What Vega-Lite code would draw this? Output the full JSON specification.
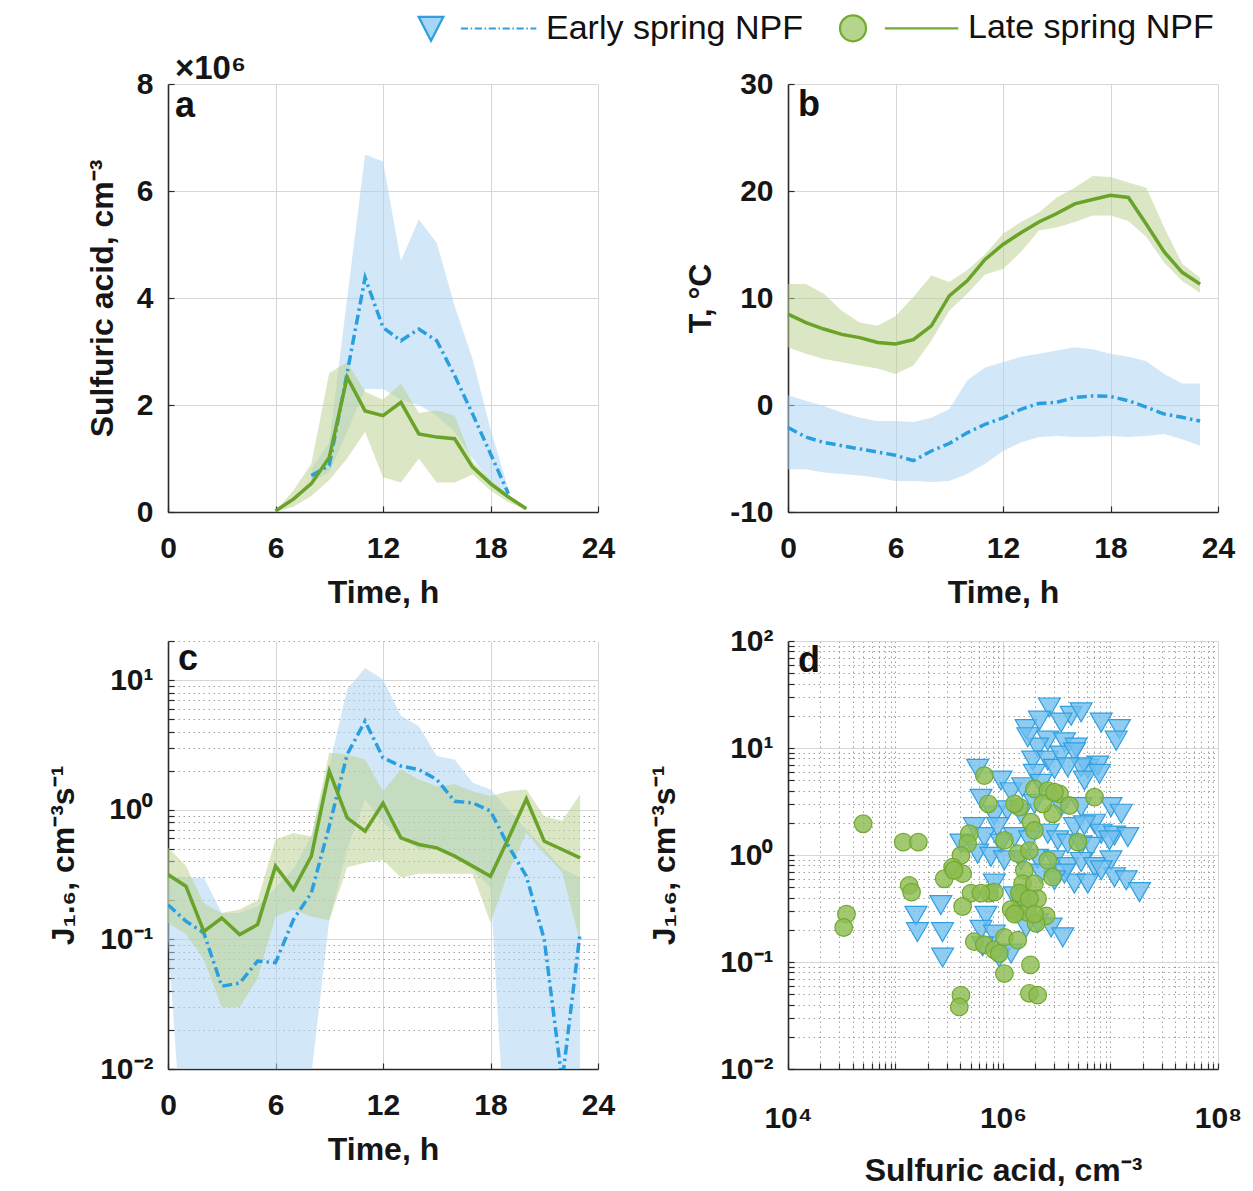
{
"$schema": "https://vega.github.io/schema/vega-lite/v6.json",
"background": "white",
"padding": {"left": 47, "top": 11, "right": 5, "bottom": 5},
"columns": 2,
"spacing": {"row": 129, "column": 190},
"bounds": "flush",
"datasets": {
"pa": [
{"t":8,"s":"E","m":680000,"lo":550000,"hi":800000},
{"t":9,"s":"E","m":870000,"lo":750000,"hi":1300000},
{"t":10,"s":"E","m":2600000,"lo":1500000,"hi":4000000},
{"t":11,"s":"E","m":4380000,"lo":2300000,"hi":6680000},
{"t":12,"s":"E","m":3450000,"lo":2300000,"hi":6550000},
{"t":13,"s":"E","m":3200000,"lo":2100000,"hi":4690000},
{"t":14,"s":"E","m":3420000,"lo":2000000,"hi":5470000},
{"t":15,"s":"E","m":3200000,"lo":1800000,"hi":5030000},
{"t":16,"s":"E","m":2550000,"lo":1500000,"hi":3850000},
{"t":17,"s":"E","m":1830000,"lo":1000000,"hi":2860000},
{"t":18,"s":"E","m":1090000,"lo":550000,"hi":1550000},
{"t":19,"s":"E","m":340000,"lo":250000,"hi":430000},
{"t":6,"s":"L","m":20000,"lo":0,"hi":20000},
{"t":7,"s":"L","m":240000,"lo":100000,"hi":400000},
{"t":8,"s":"L","m":530000,"lo":300000,"hi":900000},
{"t":9,"s":"L","m":1020000,"lo":600000,"hi":2600000},
{"t":10,"s":"L","m":2520000,"lo":1000000,"hi":2800000},
{"t":11,"s":"L","m":1890000,"lo":1500000,"hi":2250000},
{"t":12,"s":"L","m":1800000,"lo":650000,"hi":2100000},
{"t":13,"s":"L","m":2050000,"lo":550000,"hi":2400000},
{"t":14,"s":"L","m":1460000,"lo":1000000,"hi":1850000},
{"t":15,"s":"L","m":1400000,"lo":550000,"hi":1900000},
{"t":16,"s":"L","m":1370000,"lo":550000,"hi":1800000},
{"t":17,"s":"L","m":840000,"lo":700000,"hi":950000},
{"t":18,"s":"L","m":530000,"lo":400000,"hi":600000},
{"t":19,"s":"L","m":280000,"lo":180000,"hi":320000},
{"t":20,"s":"L","m":60000,"lo":40000,"hi":80000}
],
"pb": [
{"t":0,"s":"E","m":-2.1,"lo":-6.0,"hi":0.9},
{"t":1,"s":"E","m":-3.0,"lo":-6.0,"hi":0.4},
{"t":2,"s":"E","m":-3.5,"lo":-6.3,"hi":-0.1},
{"t":3,"s":"E","m":-3.8,"lo":-6.45,"hi":-0.7},
{"t":4,"s":"E","m":-4.1,"lo":-6.6,"hi":-1.2},
{"t":5,"s":"E","m":-4.4,"lo":-6.8,"hi":-1.5},
{"t":6,"s":"E","m":-4.7,"lo":-7.1,"hi":-1.5},
{"t":7,"s":"E","m":-5.2,"lo":-7.1,"hi":-1.6},
{"t":8,"s":"E","m":-4.3,"lo":-7.2,"hi":-1.2},
{"t":9,"s":"E","m":-3.6,"lo":-7.1,"hi":-0.4},
{"t":10,"s":"E","m":-2.6,"lo":-6.45,"hi":2.3},
{"t":11,"s":"E","m":-1.8,"lo":-5.5,"hi":3.5},
{"t":12,"s":"E","m":-1.2,"lo":-4.3,"hi":4.0},
{"t":13,"s":"E","m":-0.4,"lo":-3.5,"hi":4.5},
{"t":14,"s":"E","m":0.15,"lo":-3.0,"hi":4.8},
{"t":15,"s":"E","m":0.25,"lo":-2.9,"hi":5.1},
{"t":16,"s":"E","m":0.7,"lo":-3.0,"hi":5.4},
{"t":17,"s":"E","m":0.85,"lo":-3.0,"hi":5.2},
{"t":18,"s":"E","m":0.8,"lo":-2.9,"hi":4.8},
{"t":19,"s":"E","m":0.4,"lo":-3.0,"hi":4.5},
{"t":20,"s":"E","m":-0.2,"lo":-2.9,"hi":4.1},
{"t":21,"s":"E","m":-0.85,"lo":-2.7,"hi":2.9},
{"t":22,"s":"E","m":-1.15,"lo":-3.2,"hi":2.0},
{"t":23,"s":"E","m":-1.5,"lo":-3.8,"hi":2.0},
{"t":0,"s":"L","m":8.5,"lo":5.4,"hi":11.3},
{"t":1,"s":"L","m":7.7,"lo":4.8,"hi":11.3},
{"t":2,"s":"L","m":7.1,"lo":4.3,"hi":10.4},
{"t":3,"s":"L","m":6.6,"lo":4.0,"hi":8.8},
{"t":4,"s":"L","m":6.3,"lo":3.7,"hi":7.7},
{"t":5,"s":"L","m":5.85,"lo":3.4,"hi":7.4},
{"t":6,"s":"L","m":5.7,"lo":2.9,"hi":8.3},
{"t":7,"s":"L","m":6.1,"lo":3.7,"hi":10.1},
{"t":8,"s":"L","m":7.4,"lo":6.0,"hi":12.1},
{"t":9,"s":"L","m":10.2,"lo":8.8,"hi":11.5},
{"t":10,"s":"L","m":11.6,"lo":10.4,"hi":12.6},
{"t":11,"s":"L","m":13.6,"lo":12.2,"hi":14.1},
{"t":12,"s":"L","m":15.0,"lo":12.7,"hi":16.0},
{"t":13,"s":"L","m":16.1,"lo":14.3,"hi":17.1},
{"t":14,"s":"L","m":17.1,"lo":16.3,"hi":18.0},
{"t":15,"s":"L","m":17.9,"lo":16.6,"hi":19.4},
{"t":16,"s":"L","m":18.8,"lo":17.1,"hi":20.3},
{"t":17,"s":"L","m":19.2,"lo":17.7,"hi":21.4},
{"t":18,"s":"L","m":19.6,"lo":17.7,"hi":21.3},
{"t":19,"s":"L","m":19.4,"lo":17.2,"hi":20.8},
{"t":20,"s":"L","m":16.9,"lo":15.7,"hi":20.3},
{"t":21,"s":"L","m":14.3,"lo":13.3,"hi":16.6},
{"t":22,"s":"L","m":12.4,"lo":11.6,"hi":13.2},
{"t":23,"s":"L","m":11.3,"lo":10.5,"hi":11.9}
],
"pc": [
{"t":0,"s":"E","m":0.185,"lo":0.1,"hi":0.3},
{"t":1,"s":"E","m":0.138,"lo":0.001,"hi":0.3},
{"t":2,"s":"E","m":0.112,"lo":0.001,"hi":0.3},
{"t":3,"s":"E","m":0.0435,"lo":0.001,"hi":0.16},
{"t":4,"s":"E","m":0.046,"lo":0.001,"hi":0.16},
{"t":5,"s":"E","m":0.068,"lo":0.001,"hi":0.18},
{"t":6,"s":"E","m":0.066,"lo":0.001,"hi":0.25},
{"t":7,"s":"E","m":0.142,"lo":0.001,"hi":0.35},
{"t":8,"s":"E","m":0.228,"lo":0.009,"hi":0.62},
{"t":9,"s":"E","m":0.746,"lo":0.14,"hi":2.17},
{"t":10,"s":"E","m":2.67,"lo":0.5,"hi":8.5},
{"t":11,"s":"E","m":4.82,"lo":1.2,"hi":12.4},
{"t":12,"s":"E","m":2.51,"lo":0.8,"hi":10.1},
{"t":13,"s":"E","m":2.17,"lo":0.6,"hi":5.3},
{"t":14,"s":"E","m":2.04,"lo":0.5,"hi":4.4},
{"t":15,"s":"E","m":1.71,"lo":0.5,"hi":2.6},
{"t":16,"s":"E","m":1.16,"lo":0.45,"hi":2.44},
{"t":17,"s":"E","m":1.13,"lo":0.35,"hi":1.61},
{"t":18,"s":"E","m":0.975,"lo":0.25,"hi":1.43},
{"t":19,"s":"E","m":0.524,"lo":0.001,"hi":1.0},
{"t":20,"s":"E","m":0.307,"lo":0.001,"hi":0.7},
{"t":21,"s":"E","m":0.1,"lo":0.001,"hi":0.5},
{"t":22,"s":"E","m":0.008,"lo":0.001,"hi":0.35},
{"t":23,"s":"E","m":0.112,"lo":0.001,"hi":0.3},
{"t":0,"s":"L","m":0.316,"lo":0.134,"hi":0.51},
{"t":1,"s":"L","m":0.257,"lo":0.11,"hi":0.37},
{"t":2,"s":"L","m":0.115,"lo":0.07,"hi":0.19},
{"t":3,"s":"L","m":0.146,"lo":0.03,"hi":0.16},
{"t":4,"s":"L","m":0.109,"lo":0.03,"hi":0.17},
{"t":5,"s":"L","m":0.13,"lo":0.05,"hi":0.2},
{"t":6,"s":"L","m":0.367,"lo":0.15,"hi":0.59},
{"t":7,"s":"L","m":0.242,"lo":0.17,"hi":0.66},
{"t":8,"s":"L","m":0.438,"lo":0.15,"hi":0.62},
{"t":9,"s":"L","m":1.98,"lo":0.14,"hi":2.75},
{"t":10,"s":"L","m":0.865,"lo":0.36,"hi":2.67},
{"t":11,"s":"L","m":0.683,"lo":0.39,"hi":2.44},
{"t":12,"s":"L","m":1.12,"lo":0.41,"hi":1.39},
{"t":13,"s":"L","m":0.607,"lo":0.3,"hi":2.04},
{"t":14,"s":"L","m":0.539,"lo":0.32,"hi":1.71},
{"t":15,"s":"L","m":0.508,"lo":0.32,"hi":1.51},
{"t":16,"s":"L","m":0.438,"lo":0.32,"hi":1.57},
{"t":17,"s":"L","m":0.367,"lo":0.32,"hi":1.39},
{"t":18,"s":"L","m":0.307,"lo":0.134,"hi":1.27},
{"t":19,"s":"L","m":0.6,"lo":0.33,"hi":1.39},
{"t":20,"s":"L","m":1.21,"lo":0.66,"hi":1.43},
{"t":21,"s":"L","m":0.571,"lo":0.46,"hi":0.89},
{"t":22,"s":"L","m":0.493,"lo":0.33,"hi":0.82},
{"t":23,"s":"L","m":0.425,"lo":0.095,"hi":1.31}
],
"pd": [
{"x":2700000,"y":23.9,"s":"E"},{"x":4300000,"y":20,"s":"E"},{"x":5330000,"y":21.5,"s":"E"},{"x":8190000,"y":17.3,"s":"E"},
{"x":12100000,"y":15,"s":"E"},{"x":11300000,"y":11.7,"s":"E"},{"x":1640000,"y":15,"s":"E"},{"x":2180000,"y":18,"s":"E"},
{"x":3470000,"y":17.3,"s":"E"},{"x":2610000,"y":11.7,"s":"E"},{"x":3730000,"y":11.3,"s":"E"},{"x":4790000,"y":10.1,"s":"E"},
{"x":2100000,"y":10.1,"s":"E"},{"x":1700000,"y":12.6,"s":"E"},{"x":1890000,"y":7.62,"s":"E"},{"x":2610000,"y":7.62,"s":"E"},
{"x":3470000,"y":8.49,"s":"E"},{"x":4620000,"y":9.12,"s":"E"},{"x":6150000,"y":6.37,"s":"E"},{"x":7620000,"y":6.85,"s":"E"},
{"x":5330000,"y":6.6,"s":"E"},{"x":1960000,"y":5.72,"s":"E"},{"x":3010000,"y":6.37,"s":"E"},{"x":4000000,"y":6.6,"s":"E"},
{"x":5720000,"y":4.96,"s":"E"},{"x":7900000,"y":5.72,"s":"E"},{"x":581000,"y":6.37,"s":"E"},{"x":958000,"y":4.96,"s":"E"},
{"x":1190000,"y":3.86,"s":"E"},{"x":1520000,"y":4.3,"s":"E"},{"x":2260000,"y":4.62,"s":"E"},{"x":624000,"y":3.35,"s":"E"},
{"x":830000,"y":2.34,"s":"E"},{"x":1100000,"y":2.61,"s":"E"},{"x":1470000,"y":2.43,"s":"E"},{"x":1960000,"y":3.01,"s":"E"},
{"x":3470000,"y":2.8,"s":"E"},{"x":5330000,"y":2.8,"s":"E"},{"x":10100000,"y":2.8,"s":"E"},{"x":12600000,"y":2.43,"s":"E"},
{"x":7100000,"y":1.96,"s":"E"},{"x":4620000,"y":1.82,"s":"E"},{"x":5720000,"y":1.89,"s":"E"},{"x":8190000,"y":1.58,"s":"E"},
{"x":10900000,"y":1.52,"s":"E"},{"x":14500000,"y":1.47,"s":"E"},{"x":9790000,"y":1.37,"s":"E"},{"x":541000,"y":1.82,"s":"E"},
{"x":670000,"y":1.47,"s":"E"},{"x":891000,"y":1.82,"s":"E"},{"x":958000,"y":1.28,"s":"E"},{"x":1280000,"y":1.47,"s":"E"},
{"x":1760000,"y":1.37,"s":"E"},{"x":2610000,"y":1.58,"s":"E"},{"x":3230000,"y":1.37,"s":"E"},{"x":4000000,"y":1.28,"s":"E"},
{"x":5330000,"y":1.23,"s":"E"},{"x":6600000,"y":1.19,"s":"E"},{"x":406000,"y":1.28,"s":"E"},{"x":581000,"y":1.03,"s":"E"},
{"x":773000,"y":0.96,"s":"E"},{"x":1030000,"y":0.89,"s":"E"},{"x":1470000,"y":0.89,"s":"E"},{"x":2100000,"y":0.92,"s":"E"},
{"x":3010000,"y":0.89,"s":"E"},{"x":4000000,"y":0.77,"s":"E"},{"x":5330000,"y":0.86,"s":"E"},{"x":7100000,"y":0.77,"s":"E"},
{"x":10100000,"y":0.89,"s":"E"},{"x":4620000,"y":0.54,"s":"E"},{"x":6150000,"y":0.54,"s":"E"},{"x":10900000,"y":0.62,"s":"E"},
{"x":14000000,"y":0.58,"s":"E"},{"x":18600000,"y":0.45,"s":"E"},{"x":8190000,"y":0.72,"s":"E"},{"x":3730000,"y":0.67,"s":"E"},
{"x":3010000,"y":0.58,"s":"E"},{"x":2260000,"y":0.67,"s":"E"},{"x":830000,"y":0.54,"s":"E"},{"x":264000,"y":0.34,"s":"E"},
{"x":155000,"y":0.27,"s":"E"},{"x":160000,"y":0.19,"s":"E"},{"x":274000,"y":0.19,"s":"E"},{"x":274000,"y":0.11,"s":"E"},
{"x":695000,"y":0.27,"s":"E"},{"x":624000,"y":0.2,"s":"E"},{"x":830000,"y":0.18,"s":"E"},{"x":647000,"y":0.14,"s":"E"},
{"x":924000,"y":0.11,"s":"E"},{"x":1190000,"y":0.12,"s":"E"},{"x":1640000,"y":0.21,"s":"E"},{"x":2100000,"y":0.23,"s":"E"},
{"x":2800000,"y":0.21,"s":"E"},{"x":3600000,"y":0.17,"s":"E"},{"x":1700000,"y":0.31,"s":"E"},{"x":1280000,"y":0.41,"s":"E"},
{"x":50000,"y":1.96,"s":"L"},{"x":118000,"y":1.32,"s":"L"},{"x":163000,"y":1.32,"s":"L"},{"x":134000,"y":0.52,"s":"L"},
{"x":141000,"y":0.45,"s":"L"},{"x":35000,"y":0.28,"s":"L"},{"x":33000,"y":0.21,"s":"L"},{"x":670000,"y":5.52,"s":"L"},
{"x":730000,"y":3.01,"s":"L"},{"x":486000,"y":1.58,"s":"L"},{"x":469000,"y":1.28,"s":"L"},{"x":406000,"y":0.99,"s":"L"},
{"x":340000,"y":0.77,"s":"L"},{"x":421000,"y":0.67,"s":"L"},{"x":284000,"y":0.6,"s":"L"},{"x":504000,"y":0.44,"s":"L"},
{"x":421000,"y":0.33,"s":"L"},{"x":746000,"y":0.44,"s":"L"},{"x":830000,"y":0.45,"s":"L"},{"x":1030000,"y":1.37,"s":"L"},
{"x":1370000,"y":1.03,"s":"L"},{"x":1760000,"y":1.1,"s":"L"},{"x":1420000,"y":2.8,"s":"L"},{"x":1960000,"y":4.15,"s":"L"},
{"x":2610000,"y":4,"s":"L"},{"x":3350000,"y":3.72,"s":"L"},{"x":4150000,"y":2.9,"s":"L"},{"x":2900000,"y":2.43,"s":"L"},
{"x":1820000,"y":2.03,"s":"L"},{"x":1960000,"y":1.7,"s":"L"},{"x":7100000,"y":3.47,"s":"L"},{"x":4970000,"y":1.32,"s":"L"},
{"x":2610000,"y":0.89,"s":"L"},{"x":2900000,"y":0.62,"s":"L"},{"x":1580000,"y":0.72,"s":"L"},{"x":1520000,"y":0.54,"s":"L"},
{"x":1960000,"y":0.54,"s":"L"},{"x":1470000,"y":0.41,"s":"L"},{"x":2100000,"y":0.39,"s":"L"},{"x":1320000,"y":0.29,"s":"L"},
{"x":1700000,"y":0.29,"s":"L"},{"x":2520000,"y":0.27,"s":"L"},{"x":2030000,"y":0.23,"s":"L"},{"x":541000,"y":0.155,"s":"L"},
{"x":670000,"y":0.145,"s":"L"},{"x":830000,"y":0.13,"s":"L"},{"x":1030000,"y":0.17,"s":"L"},{"x":1370000,"y":0.16,"s":"L"},
{"x":924000,"y":0.12,"s":"L"},{"x":1030000,"y":0.078,"s":"L"},{"x":1800000,"y":0.094,"s":"L"},{"x":406000,"y":0.049,"s":"L"},
{"x":392000,"y":0.038,"s":"L"},{"x":1760000,"y":0.051,"s":"L"},{"x":2100000,"y":0.049,"s":"L"},{"x":1280000,"y":3.01,"s":"L"},
{"x":2340000,"y":3.01,"s":"L"},{"x":3010000,"y":3.86,"s":"L"},{"x":1190000,"y":0.31,"s":"L"},{"x":1420000,"y":0.44,"s":"L"},
{"x":1760000,"y":0.39,"s":"L"},{"x":624000,"y":0.44,"s":"L"},{"x":350000,"y":0.72,"s":"L"},{"x":1280000,"y":0.28,"s":"L"},
{"x":1960000,"y":0.28,"s":"L"}
]
},
"concat": [
{
"width": 430, "height": 428,
"title": {"text": "×10⁶", "subtitle": "a", "anchor": "start", "frame": "group", "fontSize": 33, "fontWeight": "bold", "font": "Liberation Sans", "color": "#161616", "subtitleFont": "Liberation Sans", "subtitleFontSize": 36, "subtitleFontWeight": "bold", "subtitleColor": "#111111", "subtitlePadding": 3, "offset": -55, "dx": 7},
"data": {"name": "pa"},
"encoding": {"x": {"field": "t", "type": "quantitative", "scale": {"domain": [0, 24], "nice": false}, "axis": {"values": [0, 6, 12, 18, 24], "title": "Time, h", "tickSize": -6, "labelPadding": 27, "titlePadding": 14}}},
"layer": [
{"transform": [{"filter": "datum.s=='E'"}], "mark": {"type": "area", "color": "#add5f2", "opacity": 0.55},
 "encoding": {"y": {"field": "lo", "type": "quantitative", "scale": {"domain": [0, 8000000], "nice": false, "zero": false},
   "axis": {"values": [0, 2000000, 4000000, 6000000, 8000000], "labelExpr": "format(datum.value/1000000,'d')", "title": "Sulfuric acid, cm⁻³", "tickSize": -6, "labelPadding": 21, "titlePadding": 17}},
   "y2": {"field": "hi"}}},
{"transform": [{"filter": "datum.s=='L'"}], "mark": {"type": "area", "color": "#bcd294", "opacity": 0.55},
 "encoding": {"y": {"field": "lo", "type": "quantitative"}, "y2": {"field": "hi"}}},
{"transform": [{"filter": "datum.s=='E'"}], "mark": {"type": "line", "color": "#2a9fdf", "strokeWidth": 3.5, "strokeDash": [10, 4, 2.5, 4]},
 "encoding": {"y": {"field": "m", "type": "quantitative"}}},
{"transform": [{"filter": "datum.s=='L'"}], "mark": {"type": "line", "color": "#6aa329", "strokeWidth": 3.5},
 "encoding": {"y": {"field": "m", "type": "quantitative"}}}
]
},
{
"width": 430, "height": 428,
"title": {"text": "b", "anchor": "start", "frame": "group", "fontSize": 36, "fontWeight": "bold", "font": "Liberation Sans", "color": "#111111", "offset": -55, "dx": 10},
"data": {"name": "pb"},
"encoding": {"x": {"field": "t", "type": "quantitative", "scale": {"domain": [0, 24], "nice": false}, "axis": {"values": [0, 6, 12, 18, 24], "title": "Time, h", "tickSize": -6, "labelPadding": 27, "titlePadding": 14}}},
"layer": [
{"transform": [{"filter": "datum.s=='E'"}], "mark": {"type": "area", "color": "#add5f2", "opacity": 0.55},
 "encoding": {"y": {"field": "lo", "type": "quantitative", "scale": {"domain": [-10, 30], "nice": false, "zero": false},
   "axis": {"values": [-10, 0, 10, 20, 30], "labelExpr": "replace(datum.label, '−', '-')", "title": "T, °C", "tickSize": -6, "labelPadding": 21, "titlePadding": 12}},
   "y2": {"field": "hi"}}},
{"transform": [{"filter": "datum.s=='L'"}], "mark": {"type": "area", "color": "#bcd294", "opacity": 0.55},
 "encoding": {"y": {"field": "lo", "type": "quantitative"}, "y2": {"field": "hi"}}},
{"transform": [{"filter": "datum.s=='E'"}], "mark": {"type": "line", "color": "#2a9fdf", "strokeWidth": 3.5, "strokeDash": [10, 4, 2.5, 4]},
 "encoding": {"y": {"field": "m", "type": "quantitative"}}},
{"transform": [{"filter": "datum.s=='L'"}], "mark": {"type": "line", "color": "#6aa329", "strokeWidth": 3.5},
 "encoding": {"y": {"field": "m", "type": "quantitative"}}}
]
},
{
"width": 430, "height": 428,
"title": {"text": "c", "anchor": "start", "frame": "group", "fontSize": 36, "fontWeight": "bold", "font": "Liberation Sans", "color": "#111111", "offset": -52, "dx": 10},
"data": {"name": "pc"},
"encoding": {"x": {"field": "t", "type": "quantitative", "scale": {"domain": [0, 24], "nice": false}, "axis": {"values": [0, 6, 12, 18, 24], "title": "Time, h", "tickSize": -6, "labelPadding": 27, "titlePadding": 14}}},
"layer": [
{"transform": [{"filter": "datum.s=='E'"}], "mark": {"type": "area", "color": "#add5f2", "opacity": 0.55, "clip": true},
 "encoding": {"y": {"field": "lo", "type": "quantitative", "scale": {"type": "log", "domain": [0.01, 20], "nice": false},
   "axis": {"values": [0.01,0.02,0.03,0.04,0.05,0.06,0.07,0.08,0.09,0.1,0.2,0.3,0.4,0.5,0.6,0.7,0.8,0.9,1,2,3,4,5,6,7,8,9,10,20],
     "labelExpr": "datum.value==0.01?'10⁻²':datum.value==0.1?'10⁻¹':datum.value==1?'10⁰':datum.value==10?'10¹':''",
     "title": "J₁.₆, cm⁻³s⁻¹", "tickSize": -6, "labelPadding": 21, "titlePadding": 19,
     "gridDash": {"condition": {"test": "datum.value==0.01||datum.value==0.1||datum.value==1||datum.value==10", "value": []}, "value": [1.5, 3.5]},
     "gridColor": {"condition": {"test": "datum.value==0.01||datum.value==0.1||datum.value==1||datum.value==10", "value": "#d6d6d6"}, "value": "#a0a0a0"}}},
   "y2": {"field": "hi"}}},
{"transform": [{"filter": "datum.s=='L'"}], "mark": {"type": "area", "color": "#bcd294", "opacity": 0.55, "clip": true},
 "encoding": {"y": {"field": "lo", "type": "quantitative"}, "y2": {"field": "hi"}}},
{"transform": [{"filter": "datum.s=='E'"}], "mark": {"type": "line", "color": "#2a9fdf", "strokeWidth": 3.5, "strokeDash": [10, 4, 2.5, 4], "clip": true},
 "encoding": {"y": {"field": "m", "type": "quantitative"}}},
{"transform": [{"filter": "datum.s=='L'"}], "mark": {"type": "line", "color": "#6aa329", "strokeWidth": 3.5, "clip": true},
 "encoding": {"y": {"field": "m", "type": "quantitative"}}}
]
},
{
"width": 430, "height": 428,
"title": {"text": "d", "anchor": "start", "frame": "group", "fontSize": 36, "fontWeight": "bold", "font": "Liberation Sans", "color": "#111111", "offset": -54, "dx": 10},
"data": {"name": "pd"},
"encoding": {
 "x": {"field": "x", "type": "quantitative", "scale": {"type": "log", "domain": [10000, 100000000], "nice": false},
  "axis": {"values": [10000,20000,30000,40000,50000,60000,70000,80000,90000,100000,200000,300000,400000,500000,600000,700000,800000,900000,1000000,2000000,3000000,4000000,5000000,6000000,7000000,8000000,9000000,10000000,20000000,30000000,40000000,50000000,60000000,70000000,80000000,90000000,100000000],
   "labelExpr": "datum.value==10000?'10⁴':datum.value==1000000?'10⁶':datum.value==100000000?'10⁸':''",
   "title": "Sulfuric acid, cm⁻³", "tickSize": -6, "labelPadding": 40, "titlePadding": 22,
   "gridDash": {"condition": {"test": "datum.value==10000||datum.value==1000000||datum.value==100000000", "value": []}, "value": [1.5, 3.5]},
   "gridColor": {"condition": {"test": "datum.value==10000||datum.value==1000000||datum.value==100000000", "value": "#d6d6d6"}, "value": "#a0a0a0"}}},
 "y": {"field": "y", "type": "quantitative", "scale": {"type": "log", "domain": [0.01, 100], "nice": false},
  "axis": {"values": [0.01,0.02,0.03,0.04,0.05,0.06,0.07,0.08,0.09,0.1,0.2,0.3,0.4,0.5,0.6,0.7,0.8,0.9,1,2,3,4,5,6,7,8,9,10,20,30,40,50,60,70,80,90,100],
   "labelExpr": "datum.value==0.01?'10⁻²':datum.value==0.1?'10⁻¹':datum.value==1?'10⁰':datum.value==10?'10¹':datum.value==100?'10²':''",
   "title": "J₁.₆, cm⁻³s⁻¹", "tickSize": -6, "labelPadding": 21, "titlePadding": 38,
   "gridDash": {"condition": {"test": "datum.value==0.01||datum.value==0.1||datum.value==1||datum.value==10||datum.value==100", "value": []}, "value": [1.5, 3.5]},
   "gridColor": {"condition": {"test": "datum.value==0.01||datum.value==0.1||datum.value==1||datum.value==10||datum.value==100", "value": "#d6d6d6"}, "value": "#a0a0a0"}}}
},
"layer": [
{"transform": [{"filter": "datum.s=='E'"}], "mark": {"type": "point", "shape": "triangle-down", "filled": true, "size": 480, "fill": "#6fbeee", "fillOpacity": 0.78, "stroke": "#2f9fe0", "strokeWidth": 1.2, "opacity": 1}},
{"transform": [{"filter": "datum.s=='L'"}], "mark": {"type": "point", "shape": "circle", "filled": true, "size": 310, "fill": "#8dbd52", "fillOpacity": 0.82, "stroke": "#72a832", "strokeWidth": 1.2, "opacity": 1}},
{"transform": [{"filter": "false"}], "mark": {"type": "point", "filled": true, "opacity": 1},
 "encoding": {
  "shape": {"field": "s", "type": "nominal", "scale": {"domain": ["E", "L"], "range": ["M-0.95,-0.9L0.95,-0.9L0,0.95Z M2.3,0h0.55 M3.05,0h0.12 M3.37,0h0.55 M4.12,0h0.12 M4.44,0h0.55 M5.19,0h0.12 M5.51,0h0.55 M6.26,0h0.12 M6.58,0h0.55 M7.33,0h0.12 M7.65,0h0.45", "M-1,0A1,1 0 1,1 1,0A1,1 0 1,1 -1,0Z M2.45,0H8.1"]},
   "legend": {"orient": "none", "legendX": 246, "legendY": -73, "direction": "horizontal", "columns": 2, "title": null, "labelFontSize": 34, "labelFont": "Liberation Sans", "labelFontWeight": "normal", "labelColor": "#111111", "symbolSize": 676, "symbolStrokeWidth": 2.2, "labelOffset": 98, "columnPadding": 32, "labelLimit": 400, "labelExpr": "datum.label=='E'?'Early spring NPF':'Late spring NPF'"}},
  "fill": {"field": "s", "type": "nominal", "scale": {"domain": ["E", "L"], "range": ["#a6d6f5", "#b5d48c"]}, "legend": {"orient": "none", "legendX": 246, "legendY": -73, "direction": "horizontal", "columns": 2, "title": null, "labelFontSize": 34, "labelFont": "Liberation Sans", "labelFontWeight": "normal", "labelColor": "#111111", "symbolSize": 676, "symbolStrokeWidth": 2.2, "labelOffset": 98, "columnPadding": 32, "labelLimit": 400, "labelExpr": "datum.label=='E'?'Early spring NPF':'Late spring NPF'"}},
  "stroke": {"field": "s", "type": "nominal", "scale": {"domain": ["E", "L"], "range": ["#2f9fe0", "#74aa33"]}, "legend": {"orient": "none", "legendX": 246, "legendY": -73, "direction": "horizontal", "columns": 2, "title": null, "labelFontSize": 34, "labelFont": "Liberation Sans", "labelFontWeight": "normal", "labelColor": "#111111", "symbolSize": 676, "symbolStrokeWidth": 2.2, "labelOffset": 98, "columnPadding": 32, "labelLimit": 400, "labelExpr": "datum.label=='E'?'Early spring NPF':'Late spring NPF'"}}
 }}
]
}
],
"config": {
 "font": "Liberation Sans",
 "view": {"stroke": null},
 "axis": {
  "labelFont": "Liberation Sans", "labelFontSize": 30, "labelFontWeight": "bold", "labelColor": "#161616",
  "titleFont": "Liberation Sans", "titleFontSize": 32, "titleFontWeight": "bold", "titleColor": "#161616",
  "domainColor": "#2b2b2b", "domainWidth": 1.6, "tickColor": "#2b2b2b", "tickWidth": 1.2,
  "gridColor": "#d6d6d6", "gridWidth": 1, "labelFlush": false, "labelOverlap": false
 }
}
}
